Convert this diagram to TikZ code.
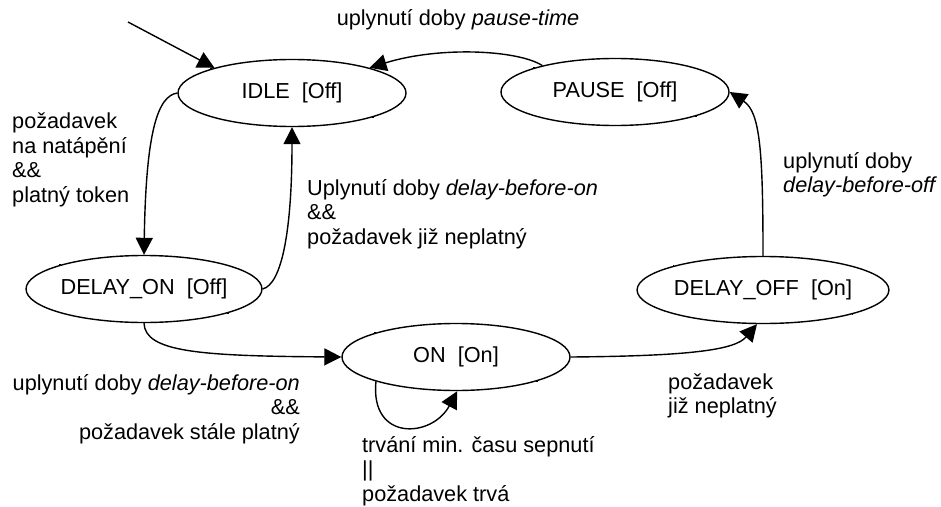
\documentclass[tikz,border=0pt]{standalone}
\usepackage{fontspec}
\setmainfont{Liberation Sans}
\usetikzlibrary{arrows.meta,shapes.geometric}

\tikzset{
  state/.style={ellipse, draw, line width=1.4pt, minimum width=228pt, minimum height=67pt,
    inner sep=0pt, font=\fontsize{21.7}{24.5}\selectfont},
  trans/.style={line width=1.4pt, -{Triangle[length=17pt,width=17pt]}},
  lbl/.style={font=\fontsize{21.7}{24.5}\selectfont, inner sep=0pt},
  corner/.style={fill=black, minimum size=1.4pt, inner sep=0pt, rectangle}
}

\begin{document}
\begin{tikzpicture}[x=1pt, y=-1pt]
  \useasboundingbox (0,0) rectangle (941,506);

  % states
  \node[state] (idle)  at (292,93)  {IDLE\ \ [Off]};
  \node[state] (pause) at (615,92)  {PAUSE\ \ [Off]};
  \node[state] (don)   at (144,289) {DELAY\_ON\ \ [Off]};
  \node[state] (on)    at (456,357) {ON\ \ [On]};
  \node[state] (doff)  at (763,290) {DELAY\_OFF\ \ [On]};

  % small corner handles of the state boxes
  \foreach \n in {idle,pause,don,on,doff}{
    \node[corner] at (\n.north west) {};
    \node[corner] at (\n.south east) {};
  }

  % initial transition
  \coordinate (start) at (128,22);
  \draw[trans] (start) -- (idle.162);

  % transitions
  \draw[trans] (pause.160) .. controls (518,50) and (440,46) .. (idle.18);
  \draw[trans] (idle.west) .. controls (158,96) and (146,130) .. (don.north);
  \draw[trans] (don.east) .. controls (282,284) and (292,230) .. (idle.south);
  \draw[trans] (don.south) .. controls (145,352) and (200,356) .. (on.west);
  \draw[trans] (on.197) .. controls (370,442) and (432,438) .. (on.-88);
  \draw[trans] (on.east) .. controls (690,356) and (735,350) .. (doff.-100);
  \draw[trans] (doff.north) .. controls (763,150) and (760,112) .. (pause.east);

  % labels
  \node[lbl] (lpause) at (458,20) {uplynutí doby \textit{pause-time}};
  \node[lbl, anchor=west, align=left] (lreq) at (12,160)
    {požadavek\\na natápění\\\&\&\\platný token};
  \node[lbl, anchor=west, align=left] (lback) at (307,214)
    {Uplynutí doby \textit{delay-before-on}\\\&\&\\požadavek již neplatný};
  \node[lbl, anchor=west, align=left] (ldoff) at (783,175)
    {uplynutí doby\\\textit{delay-before-off}};
  \node[lbl, anchor=east, align=right] (lon) at (300,409)
    {uplynutí doby \textit{delay-before-on}\\\&\&\\požadavek stále platný};
  \node[lbl, anchor=west, align=left] (lnot) at (668,396)
    {požadavek\\již neplatný};
  \node[lbl, anchor=west, align=left] (lloop) at (362,471)
    {trvání min. času sepnutí\\||\\požadavek trvá};
\end{tikzpicture}
\end{document}
